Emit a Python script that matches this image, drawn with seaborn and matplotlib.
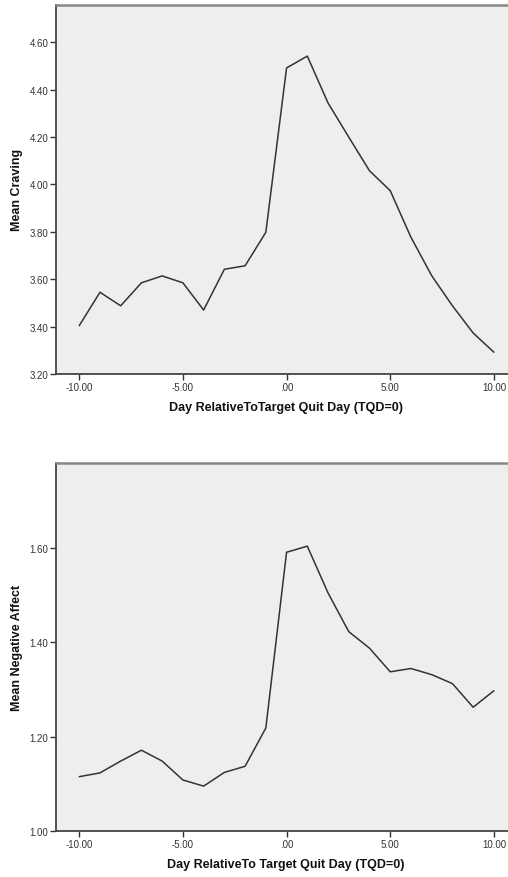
import matplotlib
matplotlib.use("Agg")
import matplotlib.pyplot as plt
import seaborn as sns
import pandas as pd
from matplotlib.ticker import FuncFormatter, FixedLocator

days = [-10, -9, -8, -7, -6, -5, -4, -3, -2, -1, 0, 1, 2, 3, 4, 5, 6, 7, 8, 9, 10]
craving = [3.404, 3.545, 3.488, 3.585, 3.614, 3.585, 3.470, 3.642, 3.657, 3.798,
           4.492, 4.542, 4.344, 4.200, 4.058, 3.974, 3.777, 3.615, 3.488, 3.373, 3.292]
neg_affect = [1.115, 1.123, 1.148, 1.171, 1.148, 1.108, 1.095, 1.124, 1.137, 1.218,
              1.590, 1.603, 1.504, 1.422, 1.387, 1.337, 1.344, 1.331, 1.312, 1.262, 1.297]
x_ticks = [-10, -5, 0, 5, 10]
craving_ticks = [3.20, 3.40, 3.60, 3.80, 4.00, 4.20, 4.40, 4.60]
affect_ticks = [1.00, 1.20, 1.40, 1.60]
x_label_top = "Day RelativeToTarget Quit Day (TQD=0)"
x_label_bottom = "Day RelativeTo Target Quit Day (TQD=0)"

sns.set_theme(style="white")
plt.rcParams['font.family'] = ['Liberation Sans', 'DejaVu Sans']

df = pd.DataFrame({"day": days, "craving": craving, "affect": neg_affect})

fig = plt.figure(figsize=(5.08, 8.78), dpi=100)
ax1 = fig.add_axes([56/508, 1-375/878, 1-56/508, (375-5.7)/878])
ax2 = fig.add_axes([56/508, 1-832/878, 1-56/508, (832-464)/878])


def fmt(v, pos):
    s = f"{v:.2f}"
    if s.startswith("0."):
        s = s[1:]
    if s.startswith("-0."):
        s = "-" + s[2:]
    return s


def style(ax, yticks, ylim, xlabel, ylabel):
    ax.set_facecolor("#eeeeee")
    ax.set_xlim(-11.12, 10.68)
    ax.set_ylim(*ylim)
    ax.xaxis.set_major_locator(FixedLocator(x_ticks))
    ax.yaxis.set_major_locator(FixedLocator(yticks))
    ax.xaxis.set_major_formatter(FuncFormatter(fmt))
    ax.yaxis.set_major_formatter(FuncFormatter(fmt))
    ax.tick_params(axis="both", direction="out", length=4, width=1, color="#333333",
                   labelsize=7, labelcolor="#333333", pad=1.5, left=True, bottom=True)
    for s in ["left", "bottom"]:
        ax.spines[s].set_color("#444444")
        ax.spines[s].set_linewidth(1.3)
    ax.spines["top"].set_color("#888888")
    ax.spines["top"].set_linewidth(1.8)
    ax.spines["right"].set_visible(False)
    ax.set_xlabel(xlabel, fontsize=9, fontweight="bold", color="#111111")
    ax.set_ylabel(ylabel, fontsize=9, fontweight="bold", labelpad=4.5, color="#111111")


sns.lineplot(data=df, x="day", y="craving", ax=ax1, color="#333333", linewidth=1.1)
style(ax1, craving_ticks, (3.20, 4.759), x_label_top, "Mean Craving")
ax1.xaxis.set_label_coords(0.508, -0.074)

sns.lineplot(data=df, x="day", y="affect", ax=ax2, color="#333333", linewidth=1.1)
style(ax2, affect_ticks, (1.00, 1.779), x_label_bottom, "Mean Negative Affect")
ax2.xaxis.set_label_coords(0.508, -0.074)

fig.savefig("out.png", dpi=100, facecolor="white")
